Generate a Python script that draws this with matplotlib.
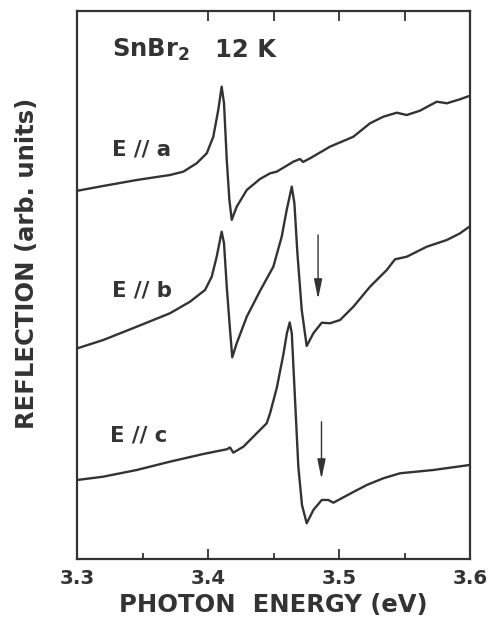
import matplotlib
matplotlib.use("Agg")
import matplotlib.pyplot as plt

# ---- data (photon energy in eV, reflection in arb. units) ----
energy_a = [3.3000, 3.3197, 3.3453, 3.3707, 3.3809, 3.3911, 3.3988, 3.4038, 3.4076, 3.4102,
            3.4120, 3.4141, 3.4161, 3.4179, 3.4217, 3.4294, 3.4395, 3.4472, 3.4523, 3.4650,
            3.4701, 3.4724, 3.4778, 3.4930, 3.5109, 3.5236, 3.5338, 3.5440, 3.5517, 3.5618,
            3.5746, 3.5823, 3.5924, 3.5993]
refl_a = [67.2, 68.07, 69.16, 70.07, 70.68, 72.21, 74.03, 77.06, 81.93, 86.19,
          83.16, 72.81, 65.51, 61.9, 64.29, 67.34, 69.34, 70.38, 70.68, 72.50,
          72.99, 72.45, 73.12, 75.24, 77.06, 79.51, 80.71, 81.44, 81.02, 81.81,
          83.45, 83.16, 83.89, 84.49]

energy_b = [3.3000, 3.3197, 3.3453, 3.3707, 3.3860, 3.3975, 3.4026, 3.4064, 3.4102, 3.4120,
            3.4141, 3.4166, 3.4183, 3.4217, 3.4294, 3.4395, 3.4497, 3.4561, 3.4599, 3.4638,
            3.4658, 3.4681, 3.4714, 3.4752, 3.4803, 3.4867, 3.4930, 3.5007, 3.5109, 3.5236,
            3.5364, 3.5427, 3.5517, 3.5670, 3.5823, 3.5924, 3.5995]
refl_b = [38.45, 39.96, 42.39, 44.84, 46.95, 49.09, 51.51, 55.16, 59.73, 57.61,
          49.69, 41.79, 36.81, 39.36, 44.22, 48.91, 53.34, 58.82, 63.69, 67.94,
          64.91, 55.78, 45.44, 38.87, 41.19, 43.12, 43.01, 43.61, 46.04, 49.69,
          52.74, 54.69, 55.16, 56.99, 58.21, 59.43, 60.64]

energy_c = [3.3000, 3.3197, 3.3453, 3.3707, 3.3962, 3.4141, 3.4166, 3.4191, 3.4268, 3.4370,
            3.4446, 3.4472, 3.4523, 3.4573, 3.4601, 3.4622, 3.4638, 3.4663, 3.4688, 3.4716,
            3.4752, 3.4803, 3.4867, 3.4917, 3.4956, 3.5090, 3.5211, 3.5338, 3.5466, 3.5720,
            3.5997]
refl_c = [14.42, 15.02, 16.24, 17.76, 19.16, 20.02, 20.35, 19.40, 20.49, 22.94,
          24.76, 26.59, 31.20, 37.23, 41.24, 43.16, 41.19, 29.01, 16.84, 9.85,
          6.51, 8.94, 10.77, 10.77, 10.27, 11.99, 13.50, 14.73, 15.64, 16.24,
          17.15]

curve_labels = ["E // a", "E // b", "E // c"]
label_energy = [3.3264, 3.3264, 3.3249]
label_refl = [73.72, 47.86, 21.41]

arrow_energy = [3.4839, 3.4865]
arrow_top = [59.12, 25.05]
arrow_tip = [47.45, 14.6]

xticks_major = [3.3, 3.4, 3.5, 3.6]
xtick_labels = ["3.3", "3.4", "3.5", "3.6"]
xticks_minor = [3.35, 3.45, 3.55]
top_ticks = [3.4, 3.45, 3.5, 3.55]

# ---- figure ----
ink = "#333333"
plt.rcParams['font.family'] = ['DejaVu Sans']
plt.rcParams['font.weight'] = 'bold'

fig = plt.figure(figsize=(4.91, 6.28), dpi=100)
ax = fig.add_axes([0.1578, 0.1099, 0.7994, 0.8726])

for e, r in [(energy_a, refl_a), (energy_b, refl_b), (energy_c, refl_c)]:
    ax.plot(e, r, color=ink, lw=1.7, solid_joinstyle='round')

ax.set_xlim(3.3, 3.6)
ax.set_ylim(0, 100)
ax.set_yticks([])
ax.set_xticks(xticks_major)
ax.set_xticklabels(xtick_labels, fontsize=14.2, fontweight='bold', color=ink)
ax.set_xticks(xticks_minor, minor=True)
ax.tick_params(axis='x', which='major', direction='in', length=7, width=1.3,
               color=ink, pad=7)
ax.tick_params(axis='x', which='minor', direction='in', length=4, width=1.3,
               color=ink)
for s in ax.spines.values():
    s.set_linewidth(1.6)
    s.set_color(ink)

# top ticks
sec = ax.secondary_xaxis('top')
sec.set_xticks(top_ticks)
sec.set_xticklabels([])
sec.tick_params(axis='x', direction='in', length=7, width=1.3, color=ink)
sec.spines['top'].set_visible(False)

ax.set_xlabel("PHOTON  ENERGY (eV)", fontsize=17.5, fontweight='bold', color=ink,
              labelpad=4)
ax.set_ylabel("REFLECTION (arb. units)", fontsize=17.5, fontweight='bold', color=ink)
ax.yaxis.set_label_coords(-0.097, 0.540)

# title inside
ax.text(3.3262, 91.66, r"SnBr$_\mathbf{2}$", fontsize=17.5, fontweight='bold',
        color=ink, va='baseline', ha='left')
ax.text(3.4051, 91.66, "12 K", fontsize=17.5, fontweight='bold',
        color=ink, va='baseline', ha='left')

for lab, x, y in zip(curve_labels, label_energy, label_refl):
    ax.text(x, y, lab, fontsize=15.3, fontweight='bold', color=ink,
            va='baseline', ha='left')

for x, y0, y1 in zip(arrow_energy, arrow_top, arrow_tip):
    ax.annotate("", xy=(x, y1), xytext=(x, y0),
                arrowprops=dict(arrowstyle="-|>,head_length=1.2,head_width=0.25",
                                color=ink, lw=1.0, mutation_scale=10,
                                shrinkA=0, shrinkB=0))

fig.savefig("out.png", dpi=100)
